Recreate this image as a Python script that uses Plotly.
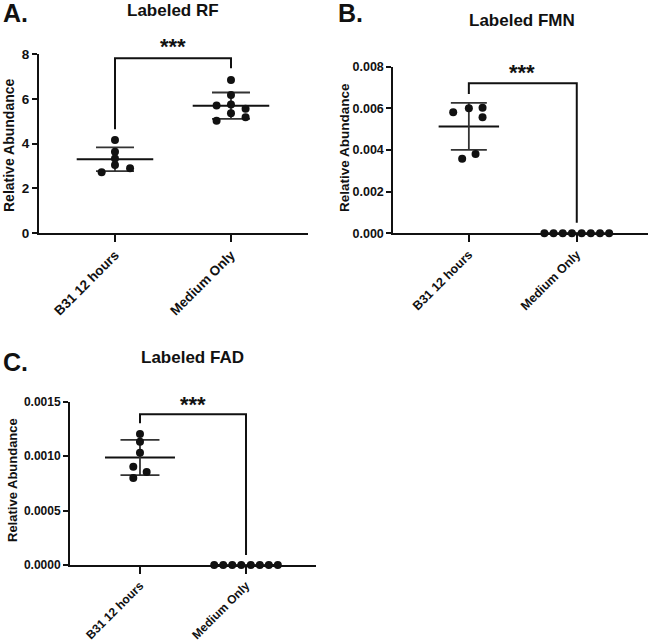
import numpy as np
import plotly.graph_objects as go

# ---------------- data ----------------
categories = ["B31 12 hours", "Medium Only"]

rf_b31 = [4.16, 3.64, 3.34, 3.04, 2.90, 2.72]
rf_medium = [6.85, 6.18, 5.71, 5.75, 5.56, 5.36, 5.18, 5.02]

fmn_b31 = [0.00581, 0.00600, 0.00603, 0.00557, 0.00381, 0.00358]
fmn_medium = [0.0, 0.0, 0.0, 0.0, 0.0, 0.0, 0.0, 0.0]

fad_b31 = [0.001203, 0.001133, 0.001032, 0.000903, 0.000854, 0.000799]
fad_medium = [0.0, 0.0, 0.0, 0.0, 0.0, 0.0, 0.0, 0.0]

panel_titles = ["Labeled RF", "Labeled FMN", "Labeled FAD"]
panel_letters = ["A.", "B.", "C."]
y_title = "Relative Abundance"
significance = "***"

# ---------------- styling / layout constants ----------------
W, H = 650, 642
FONT = "Arial, Liberation Sans, Helvetica, sans-serif"
INK = "#111111"

# horizontal scatter offsets of the dots (in category units)
rf_b31_dx = [0.0, 0.0, 0.0, 0.0, 0.13, -0.115]
rf_medium_dx = [0.0, 0.0, -0.124, 0.0, 0.126, 0.0, 0.126, -0.124]
fmn_b31_dx = [-0.145, 0.0, 0.127, 0.127, 0.062, -0.062]
fad_b31_dx = [0.0, 0.0, 0.0, -0.063, 0.063, -0.063]
zero_row_dx = [-0.30, -0.215, -0.13, -0.045, 0.045, 0.13, 0.215, 0.30]


def px(x):
    return x / W


def py(y):
    return 1 - y / H


panels = [
    dict(b31=rf_b31, med=rf_medium, b31_dx=rf_b31_dx, med_dx=rf_medium_dx,
         xdom=[px(39), px(308)], ydom=[py(233), py(54.3)],
         xrange=[-0.655, 1.664], yrange=[0, 8], dtick=2, fmt="d",
         bracket=[4.65, 7.82, 7.37], mean_hw=0.33, cap=19,
         tickfs=13.5, ytfs=14, title_xy=(173, 11), letter_xy=(15, 13),
         ytitle_xy=(9, 145), star_xy=(172.5, 47)),
    dict(b31=fmn_b31, med=fmn_medium, b31_dx=fmn_b31_dx, med_dx=zero_row_dx,
         xdom=[px(393.3), px(648)], ydom=[py(233.3), py(66.7)],
         xrange=[-0.70, 1.66], yrange=[0, 0.008], dtick=0.002, fmt=".3f",
         bracket=[0.00669, 0.0072, 0.00051], mean_hw=0.28, cap=18,
         tickfs=12.5, ytfs=13.5, title_xy=(522, 20.5), letter_xy=(350, 13),
         ytitle_xy=(344, 148), star_xy=(522, 73)),
    dict(b31=fad_b31, med=fad_medium, b31_dx=fad_b31_dx, med_dx=zero_row_dx,
         xdom=[px(70), px(316)], ydom=[py(565), py(401.7)],
         xrange=[-0.66, 1.66], yrange=[0, 0.0015], dtick=0.0005, fmt=".4f",
         bracket=[0.001301, 0.001384, 0.0000918], mean_hw=0.33, cap=19.5,
         tickfs=12, ytfs=13, title_xy=(193, 357.5), letter_xy=(15, 362),
         ytitle_xy=(12, 480), star_xy=(193, 404)),
]

fig = go.Figure()
annotations = []
layout = {}

for i, p in enumerate(panels):
    n = "" if i == 0 else str(i + 1)
    xa, ya = "x" + n, "y" + n
    groups = [(0, p["b31"], p["b31_dx"]), (1, p["med"], p["med_dx"])]

    for cx, vals, dx in groups:
        vals = np.asarray(vals, dtype=float)
        mean = float(vals.mean())
        sd = float(vals.std(ddof=1))
        # mean line
        fig.add_trace(go.Scatter(
            x=[cx - p["mean_hw"], cx + p["mean_hw"]], y=[mean, mean],
            mode="lines", line=dict(color=INK, width=2),
            xaxis=xa, yaxis=ya, showlegend=False, hoverinfo="skip",
            cliponaxis=False))
        # SD error bar
        fig.add_trace(go.Scatter(
            x=[cx], y=[mean], mode="markers",
            marker=dict(size=1, color="rgba(0,0,0,0)"),
            error_y=dict(type="data", array=[sd], symmetric=True,
                         color="#333333", thickness=1.8, width=p["cap"]),
            xaxis=xa, yaxis=ya, showlegend=False, hoverinfo="skip",
            cliponaxis=False))
        # individual points
        fig.add_trace(go.Scatter(
            x=[cx + d for d in dx], y=vals, mode="markers",
            marker=dict(size=8, color=INK),
            xaxis=xa, yaxis=ya, showlegend=False, cliponaxis=False))

    # significance bracket
    b = p["bracket"]
    fig.add_trace(go.Scatter(
        x=[0, 0, 1, 1], y=[b[0], b[1], b[1], b[2]], mode="lines",
        line=dict(color=INK, width=2),
        xaxis=xa, yaxis=ya, showlegend=False, hoverinfo="skip",
        cliponaxis=False))

    layout["xaxis" + n] = dict(
        domain=p["xdom"], range=p["xrange"], anchor=ya, automargin=False,
        tickmode="array", tickvals=[0, 1], ticktext=categories,
        tickangle=-45, ticks="outside", ticklen=7, tickwidth=2,
        tickcolor=INK, showline=True, linewidth=2, linecolor=INK,
        showgrid=False, zeroline=False,
        tickfont=dict(family=FONT, size=p["tickfs"], color=INK, weight="bold"))
    layout["yaxis" + n] = dict(
        domain=p["ydom"], range=p["yrange"], anchor=xa, automargin=False,
        tick0=0, dtick=p["dtick"], tickformat=p["fmt"],
        ticks="outside", ticklen=5, tickwidth=2, tickcolor=INK,
        showline=True, linewidth=2, linecolor=INK,
        showgrid=False, zeroline=False,
        tickfont=dict(family=FONT, size=p["tickfs"], color=INK, weight="bold"))

    tx, ty = p["title_xy"]
    annotations.append(dict(
        text=panel_titles[i], x=px(tx), y=py(ty), xref="paper", yref="paper",
        xanchor="center", yanchor="middle", showarrow=False,
        font=dict(family=FONT, size=17, color=INK, weight="bold")))
    lx, ly = p["letter_xy"]
    annotations.append(dict(
        text=panel_letters[i], x=px(lx), y=py(ly), xref="paper", yref="paper",
        xanchor="center", yanchor="middle", showarrow=False,
        font=dict(family=FONT, size=25, color=INK, weight="bold")))
    yx, yy = p["ytitle_xy"]
    annotations.append(dict(
        text=y_title, x=px(yx), y=py(yy), xref="paper", yref="paper",
        xanchor="center", yanchor="middle", showarrow=False, textangle=-90,
        font=dict(family=FONT, size=p["ytfs"], color=INK, weight="bold")))
    sx, sy = p["star_xy"]
    annotations.append(dict(
        text=significance, x=px(sx), y=py(sy), xref="paper", yref="paper",
        xanchor="center", yanchor="middle", showarrow=False,
        font=dict(family=FONT, size=22, color=INK, weight="bold")))

fig.update_layout(
    width=W, height=H,
    margin=dict(l=0, r=0, t=0, b=0),
    paper_bgcolor="white", plot_bgcolor="white",
    showlegend=False,
    annotations=annotations,
    **layout,
)

fig.write_html("out.html", config={"displayModeBar": False},
               post_script="document.body.style.margin='0px';")
